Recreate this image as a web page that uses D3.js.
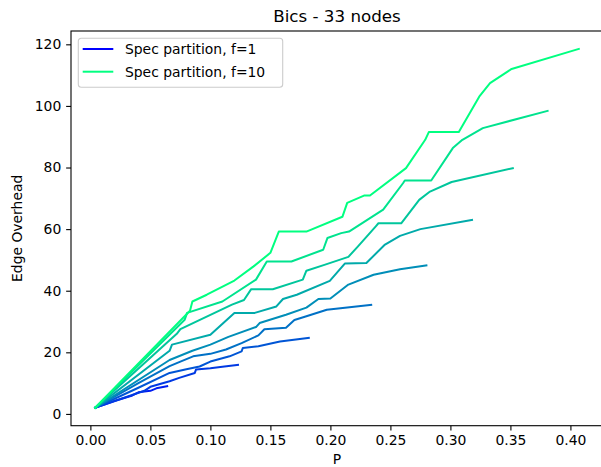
<!DOCTYPE html>
<html>
<head>
<meta charset="utf-8">
<script src="https://cdn.jsdelivr.net/npm/d3@7"></script>
<style>
  body { margin: 0; background: #fff; }
  text { font-family: "DejaVu Sans", sans-serif; fill: #000; }
</style>
</head>
<body>
<div id="chart"></div>
<script>
// series f=1 .. f=10, each a list of [P, edge overhead]
var f1 = [[0.004, 2], [0.007, 2.6]];
var f2 = [[0.004, 2], [0.02, 4.2], [0.035, 6], [0.04, 7], [0.05, 7.5], [0.055, 8.3], [0.064, 9]];
var f3 = [[0.004, 2], [0.03, 5.5], [0.045, 7.5], [0.05, 8.8], [0.066, 10.6], [0.074, 11.7], [0.087, 13.3],
  [0.088, 14.4], [0.1, 14.8], [0.11, 15.3], [0.123, 15.9]];
var f4 = [[0.004, 2], [0.04, 8.5], [0.066, 13.3], [0.08, 14.5], [0.091, 15.4], [0.1, 17], [0.116, 18.7],
  [0.126, 20.3], [0.127, 21.4], [0.14, 22], [0.158, 23.5], [0.182, 24.7]];
var f5 = [[0.004, 2], [0.04, 10], [0.066, 15.5], [0.075, 17], [0.0856, 18.7], [0.1, 19.5], [0.113, 20.9],
  [0.126, 23], [0.14, 25.5], [0.145, 27.5], [0.163, 28], [0.17, 30.5], [0.18, 31.7], [0.197, 33.8], [0.234, 35.4]];
var f6 = [[0.004, 2], [0.066, 17.5], [0.085, 20.5], [0.1, 22.5], [0.115, 25], [0.138, 28.2], [0.141, 29.5],
  [0.163, 32.2], [0.18, 34.5], [0.19, 37.3], [0.2, 37.5], [0.215, 42], [0.236, 45.2], [0.258, 47], [0.28, 48.2]];
var f7 = [[0.004, 2], [0.066, 20.5], [0.068, 22.5], [0.1, 25.7], [0.12, 32.8], [0.137, 32.8], [0.155, 34.9],
  [0.1605, 37.3], [0.172, 38.7], [0.1995, 43.2], [0.212, 48.8], [0.23, 49], [0.2455, 55], [0.258, 57.8],
  [0.275, 60], [0.318, 63]];
var f8 = [[0.004, 2], [0.072, 26], [0.075, 27.5], [0.118, 35.5], [0.128, 37], [0.134, 40.5], [0.152, 40.5],
  [0.177, 43.6], [0.18, 46.5], [0.195, 48.4], [0.215, 51], [0.223, 54.4], [0.238, 61], [0.24, 61.9],
  [0.259, 61.9], [0.274, 69.5], [0.283, 72.2], [0.301, 75.3], [0.352, 79.8]];
var f9 = [[0.004, 2], [0.0786, 30.6], [0.0806, 32.8], [0.11, 36.5], [0.138, 43.6], [0.147, 49.5], [0.1675, 49.5],
  [0.194, 53.3], [0.1975, 57.1], [0.209, 58.7], [0.2155, 59.2], [0.244, 66.3], [0.2605, 74.9], [0.262, 75.8],
  [0.284, 75.8], [0.302, 86.3], [0.31, 89], [0.327, 92.8], [0.381, 98.4]];
var f10 = [[0.004, 2], [0.083, 33.5], [0.085, 36.5], [0.097, 38.7], [0.12, 43.3], [0.136, 47.9], [0.15, 52.3],
  [0.157, 59.2], [0.18, 59.2], [0.21, 64], [0.214, 68.5], [0.228, 70.9], [0.233, 70.9], [0.263, 79.8],
  [0.279, 89], [0.282, 91.5], [0.307, 91.5], [0.324, 103], [0.333, 107.4], [0.351, 112], [0.407, 118.5]];

var series = [f1, f2, f3, f4, f5, f6, f7, f8, f9, f10];
var fValues = [1, 2, 3, 4, 5, 6, 7, 8, 9, 10];
var legendF = [1, 10];
var xTicks = [0, 0.05, 0.1, 0.15, 0.2, 0.25, 0.3, 0.35, 0.4];
var yTicks = [0, 20, 40, 60, 80, 100, 120];

var svgWidth = 601;
var svgHeight = 467;

// plot box, right edge runs past the picture like in the original
var box = { left: 71, right: 603, top: 31, bottom: 425.7 };

var svg = d3.select("#chart")
  .append("svg")
  .attr("width", svgWidth)
  .attr("height", svgHeight);

// matplotlib "winter" colormap
function winter(t) {
  return d3.rgb(0, Math.round(255 * t), Math.round(255 * (1 - 0.5 * t))).formatHex();
}
function colorFor(i) { return winter(i / (series.length - 1)); }

// autoscale with 5% padding
var allPts = d3.merge(series);
var xExt = d3.extent(allPts, d => d[0]);
var yExt = d3.extent(allPts, d => d[1]);
var xPad = (xExt[1] - xExt[0]) * 0.05;
var yPad = (yExt[1] - yExt[0]) * 0.05;

var x = d3.scaleLinear()
  .domain([xExt[0] - xPad, xExt[1] + xPad])
  .range([box.left, box.right]);

var y = d3.scaleLinear()
  .domain([yExt[0] - yPad, yExt[1] + yPad])
  .range([box.bottom, box.top]);

var fontPx = 13.9;

// Lines
var line = d3.line()
  .x(d => x(d[0]))
  .y(d => y(d[1]));

svg.append("g")
  .selectAll("path")
  .data(series)
  .enter()
  .append("path")
  .attr("d", line)
  .attr("fill", "none")
  .attr("stroke", (d, i) => colorFor(i))
  .attr("stroke-width", 2)
  .attr("stroke-linejoin", "round")
  .attr("stroke-linecap", "square");

// Axes
var bottomAxis = d3.axisBottom(x)
  .tickValues(xTicks)
  .tickFormat(d3.format(".2f"))
  .tickSize(4.86)
  .tickPadding(4.4);

var leftAxis = d3.axisLeft(y)
  .tickValues(yTicks)
  .tickFormat(d3.format("d"))
  .tickSize(4.86)
  .tickPadding(4.86);

var gx = svg.append("g")
  .attr("transform", `translate(0, ${box.bottom})`)
  .call(bottomAxis);

var gy = svg.append("g")
  .attr("transform", `translate(${box.left}, 0)`)
  .call(leftAxis);

[gx, gy].forEach(function(g) {
  g.select(".domain").remove();
  g.selectAll(".tick line").attr("stroke", "#000").attr("stroke-width", 1.1);
  g.selectAll(".tick text")
    .style("font-family", "DejaVu Sans")
    .style("font-size", fontPx + "px")
    .attr("fill", "#000");
});

// spines
svg.append("rect")
  .attr("x", box.left)
  .attr("y", box.top)
  .attr("width", box.right - box.left)
  .attr("height", box.bottom - box.top)
  .attr("fill", "none")
  .attr("stroke", "#000")
  .attr("stroke-width", 1.1);

// Title and axis labels
svg.append("text")
  .attr("x", (box.left + box.right) / 2)
  .attr("y", 22)
  .attr("text-anchor", "middle")
  .style("font-size", "16.7px")
  .text("Bics - 33 nodes");

svg.append("text")
  .attr("x", (box.left + box.right) / 2)
  .attr("y", 464)
  .attr("text-anchor", "middle")
  .style("font-size", fontPx + "px")
  .text("P");

svg.append("text")
  .attr("transform", `translate(22, ${(box.top + box.bottom) / 2}) rotate(-90)`)
  .attr("text-anchor", "middle")
  .style("font-size", fontPx + "px")
  .text("Edge Overhead");

// Legend
var legend = svg.append("g")
  .attr("transform", "translate(78.3, 38.3)");

legend.append("rect")
  .attr("width", 204.4)
  .attr("height", 49)
  .attr("rx", 3)
  .attr("fill", "#fff")
  .attr("fill-opacity", 0.8)
  .attr("stroke", "#cccccc")
  .attr("stroke-width", 1.1);

var items = legend.selectAll("g.item")
  .data(legendF)
  .enter()
  .append("g")
  .attr("class", "item")
  .attr("transform", (d, i) => `translate(0, ${10.7 + i * 22.7})`);

items.append("line")
  .attr("x1", 4.4)
  .attr("x2", 35)
  .attr("stroke", d => colorFor(fValues.indexOf(d)))
  .attr("stroke-width", 2);

items.append("text")
  .attr("x", 46.7)
  .attr("dy", "0.36em")
  .style("font-size", fontPx + "px")
  .text(d => "Spec partition, f=" + d);
</script>
</body>
</html>
